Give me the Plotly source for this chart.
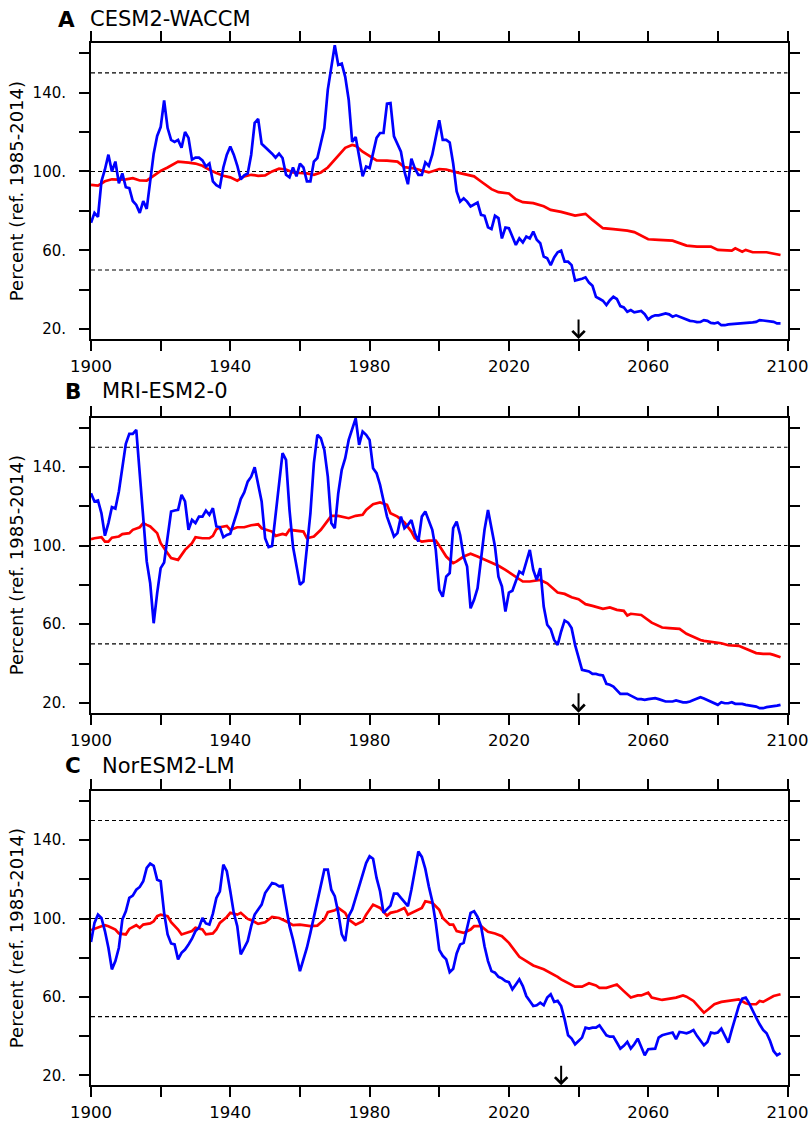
import plotly.graph_objects as go

# ---------------- data ----------------
YEARS = list(range(1900, 2099))

panel_letters = ["A", "B", "C"]
model_names = ["CESM2-WACCM", "MRI-ESM2-0", "NorESM2-LM"]
y_axis_title = "Percent (ref. 1985-2014)"

x_tick_vals = [1900, 1920, 1940, 1960, 1980, 2000, 2020, 2040, 2060, 2080, 2100]
x_tick_text = ["1900", "", "1940", "", "1980", "", "2020", "", "2060", "", "2100"]
y_tick_vals = [20, 40, 60, 80, 100, 120, 140, 160]
y_tick_text = ["20.", "", "60.", "", "100.", "", "140.", ""]
ref_levels = [50, 100, 150]
arrow_years = [2040, 2040, 2035]

cesm_blue = [
    74, 79, 77, 95, 101, 108.5, 100, 105, 94, 99,
    92, 91.5, 85, 83, 79, 85, 81, 96, 109, 118,
    122.5, 136, 122, 116, 115, 116, 112, 120, 117, 106,
    107, 107, 105.6, 102.5, 104, 95, 93, 92, 102, 108.5,
    112.7, 108.5, 103, 96, 98, 99, 108.5, 124.6, 126.6, 114,
    112.4, 111, 109, 107, 109, 106.8, 98.3, 97, 102, 97.5,
    104, 102, 95, 95, 105, 106.8, 114.4, 122, 141.5, 153.4,
    164, 154, 154.7, 148, 136.4, 115, 117.5, 107.6, 97.5, 102.5,
    101.7, 109.3, 117, 119.5, 119.5, 134.4, 134.7, 117.8, 114, 110,
    100, 93.5, 106.5, 101.5, 98.3, 98.3, 104.6, 102.8, 108.5, 118,
    126, 116, 116, 114.7, 104, 89.8, 84.7, 86.4, 84.7, 82.2,
    83, 84.2, 78, 77.5, 71.7, 70.8, 77.5, 76.3, 66, 71.5,
    71.2, 67, 62.7, 66, 64, 67, 66, 69.5, 65.3, 63.6,
    56.8, 56, 52.5, 56.4, 59, 59.8, 54.2, 54.2, 52.5, 44.6,
    45, 45.6, 46.3, 43.6, 42, 36.4, 35.4, 34.4, 32.2, 34.7,
    36.4, 35.3, 31.7, 31, 28.8, 29.7, 28.5, 28.8, 29.2, 27.6,
    24.9, 26.3, 27, 27, 27.5, 28, 27.5, 26.3, 27, 26.3,
    25.4, 24.9, 24.2, 24, 23.6, 23.7, 24.6, 24.2, 23.2, 22.9,
    23.4, 22, 22, 22.4, 22.5, 22.9, 22.9, 22.9, 23.2, 23.2,
    23.4, 23.7, 24.6, 24.4, 24.2, 24, 23.7, 22.9, 22.9,
]

cesm_red_years = [
    1900, 1902, 1904, 1906, 1908, 1910, 1912, 1914, 1916, 1918, 1920, 1922, 1924, 1925,
    1928, 1930, 1932, 1934, 1936, 1938, 1940, 1942, 1944, 1946, 1948, 1950, 1952, 1954,
    1956, 1958, 1960, 1962, 1964, 1966, 1968, 1969, 1971, 1973, 1975, 1976, 1978, 1980,
    1982, 1985, 1988, 1990, 1993, 1995, 1997, 2000, 2002, 2005, 2008, 2010, 2012, 2015,
    2017, 2020, 2022, 2024, 2027, 2030, 2032, 2035, 2039, 2042, 2044, 2047, 2050, 2054,
    2056, 2058, 2060, 2063, 2067, 2071, 2074, 2078, 2080, 2084, 2085, 2087, 2088, 2090,
    2094, 2098,
]
cesm_red = [
    93.2, 92.8, 95, 96, 95.8, 96, 96.6, 95.4, 95.3, 98, 100.3, 102, 104, 105,
    104.5, 104, 102.9, 100.8, 99.2, 97.8, 97, 95.3, 97.5, 98.3, 97.8, 98, 100, 101.4,
    101, 99.5, 99.2, 99, 98.3, 99.5, 102, 104, 108.5, 112, 113.4, 113, 110, 107.6,
    105.6, 105.5, 105, 102.2, 101.5, 100.5, 99.5, 101.2, 101, 99.5, 98.3, 97.5, 94.9, 91,
    89.5, 88.8, 85.9, 84.4, 83.9, 82.3, 80.5, 79.5, 77.6, 78.5, 75.4, 71.2, 70.7, 70,
    69.2, 67.3, 65.6, 65.3, 64.9, 62.4, 61.9, 61.9, 60.2, 59.8, 61, 59.3, 60.2, 59,
    59, 57.6,
]

mri_blue = [
    126.6, 122.4, 122.9, 116.4, 105, 111.4, 119.5, 118.8, 127.5, 140.2,
    151.7, 156.8, 156.8, 158.8, 135, 114.7, 91.9, 80.8, 60.5, 75.8,
    88.5, 91.4, 104.6, 117.3, 117.8, 118.1, 125.8, 122.4, 108, 113,
    111.4, 114.7, 114.7, 117.8, 115.6, 119, 109.7, 109.3, 104.2, 105.4,
    106, 111.4, 117.3, 123.6, 127, 132.5, 135, 139.8, 131.4, 122.4,
    103.7, 99.2, 99.8, 114.7, 130, 147, 143.6, 118.1, 99.5, 89.3,
    80, 81.7, 99.5, 116.4, 141.9, 156.3, 154.6, 148.6, 135, 111.4,
    108.8, 126.6, 138.5, 144.4, 153.7, 159.7, 164.7, 151.2, 158, 156.3,
    153.7, 139.3, 136.8, 130.8, 122.4, 114.7, 109.7, 104.6, 106.3, 114.7,
    108.8, 110.5, 113, 106.3, 102, 114.7, 117.3, 113, 108, 97.8,
    77.5, 74, 84.2, 86, 108.8, 112.2, 105.4, 94.4, 89.3, 68.1,
    72.4, 78.3, 94.4, 108, 118.1, 108.8, 99.5, 84.2, 79.2, 66.4,
    76.1, 77, 81.7, 86.8, 85.6, 91.9, 97.8, 87.6, 82.5, 88.5,
    69, 59.7, 57.5, 52, 49.5, 56.3, 61.9, 60.8, 58, 49.5,
    42.7, 36.8, 36.4, 36, 34.7, 34.7, 34.2, 33.9, 29.7, 29.2,
    28.3, 26.6, 24.6, 24.6, 24.6, 23.7, 22.9, 21.9, 21.9, 21.5,
    21.9, 22.2, 22.4, 21.9, 21.2, 20.7, 20.7, 20.7, 21.2, 20.7,
    20.3, 20.3, 20.7, 21.5, 22.2, 22.9, 22.2, 21.5, 20.7, 19.8,
    19, 20.3, 19.8, 19.8, 20.3, 19.5, 19.5, 19.5, 19, 18.8,
    18.5, 18.1, 17.3, 17.3, 17.8, 18, 18.5, 18.6, 19,
]

mri_red_years = [
    1900, 1901, 1903, 1904, 1905, 1906, 1908, 1909, 1911, 1912, 1914, 1915, 1916, 1917,
    1919, 1920, 1922, 1923, 1925, 1926, 1927, 1929, 1930, 1932, 1934, 1935, 1936, 1937,
    1939, 1940, 1942, 1944, 1946, 1948, 1949, 1952, 1953, 1955, 1956, 1957, 1959, 1961,
    1962, 1964, 1966, 1968, 1969, 1971, 1974, 1976, 1978, 1979, 1981, 1983, 1985, 1986,
    1988, 1990, 1992, 1993, 1995, 1997, 1999, 2000, 2002, 2004, 2005, 2007, 2009, 2011,
    2014, 2017, 2019, 2022, 2024, 2026, 2029, 2031, 2034, 2036, 2038, 2040, 2042, 2044,
    2047, 2049, 2051, 2053, 2054, 2055, 2058, 2061, 2064, 2066, 2069, 2071, 2073, 2075,
    2076, 2079, 2081, 2083, 2086, 2087, 2089, 2091, 2093, 2095, 2096, 2098,
]
mri_red = [
    103.2, 103.7, 104.2, 102, 102, 104, 104.6, 105.8, 106.3, 108, 109.3, 111.4, 110.5, 109.7,
    106.3, 101.2, 96.1, 93.6, 92.7, 95.3, 97.8, 101.2, 104.2, 103.7, 103.7, 104.9, 108.3, 109.3,
    110, 108, 109.3, 109.3, 110.3, 110.8, 108.8, 107.1, 104.9, 105.9, 105.4, 108, 107.6, 107.1,
    103.7, 104.6, 108, 113, 115.1, 115.1, 113.9, 115.1, 115.6, 118.1, 121, 121.9, 120.7, 116.4,
    114.7, 111.7, 107.1, 103.7, 102, 102.5, 102.5, 100, 94.4, 91, 91.9, 94.4, 95.8, 94.4,
    91.9, 89.7, 87.6, 83.9, 81.7, 81.7, 82.5, 80.8, 76.1, 75.4, 73.7, 72.7, 70.2, 69.3,
    67.8, 68.5, 67.3, 66.8, 64.4, 65.3, 64.7, 60.8, 58.3, 58, 57.6, 55.1, 53.4, 52,
    51.5, 50.7, 50.3, 49.3, 49, 48.3, 46.6, 45.3, 44.9, 44.9, 44.4, 43.2,
]

nor_blue = [
    88, 97.8, 102, 100.3, 93.6, 85.1, 74.1, 78.3, 85.1, 99.5,
    103.7, 110.5, 111.7, 114.7, 116.1, 119, 125.8, 128, 126.9, 119.8,
    119, 102.9, 91.9, 87.3, 86.8, 79.2, 82.5, 84.2, 86.8, 89.7,
    93.6, 95.3, 100.3, 97.5, 96.9, 102.5, 110.5, 113.9, 127.5, 124.1,
    113.9, 102.9, 96.1, 81.7, 85.1, 88.5, 96.1, 102, 104.6, 107.1,
    113, 115.6, 118.1, 117.6, 116.4, 116.8, 105.4, 96.1, 89.3, 81.2,
    73.2, 79.2, 85.1, 92.7, 101.2, 108, 118.1, 124.9, 124.9, 114.7,
    111.4, 102.9, 91.9, 88.5, 101.2, 104.6, 110.5, 116.4, 123.2, 128.3,
    131.7, 130.5, 120.7, 113.9, 102.9, 104.6, 106.6, 112.7, 112.7, 110.5,
    108.3, 106.3, 114.7, 124.9, 134.2, 131.4, 125.3, 116.4, 108.8, 97.8,
    84, 81, 79.2, 72.7, 74.4, 82.2, 86.8, 87.6, 96.1, 102.9,
    103.7, 100.8, 96.1, 85.9, 78.3, 73.2, 72.4, 70.3, 69.5, 68.1,
    67.6, 63.9, 66.4, 69, 65.6, 60.5, 58, 55.4, 55.8, 57.1,
    55.8, 59.7, 61.4, 57.5, 58, 55.4, 48.6, 40.5, 38.8, 35.9,
    37.6, 39.3, 44.4, 43.9, 44.4, 44.4, 45.6, 42.7, 40.5, 39.8,
    39.8, 36.8, 33.7, 35.1, 37.1, 33.7, 35.9, 38.8, 34.2, 30.3,
    33.4, 33.7, 33.7, 39.3, 40.5, 41, 41.5, 41.9, 38.5, 42.2,
    41.9, 41.5, 42.2, 43.2, 40.2, 37.6, 35.4, 37.1, 41.9, 41.5,
    41.9, 43.9, 40.2, 36.8, 43.2, 49.5, 55.4, 59.2, 59.7, 56.8,
    52.9, 49.5, 46.1, 43.2, 41.5, 37.6, 32.5, 30.3, 31.4,
]

nor_red_years = [
    1900, 1901, 1903, 1904, 1905, 1907, 1908, 1910, 1911, 1913, 1914, 1915, 1917, 1918,
    1919, 1920, 1922, 1923, 1925, 1926, 1927, 1929, 1930, 1932, 1933, 1935, 1936, 1937,
    1939, 1940, 1942, 1943, 1945, 1946, 1948, 1950, 1952, 1954, 1956, 1958, 1960, 1961,
    1963, 1965, 1967, 1968, 1970, 1971, 1973, 1974, 1976, 1978, 1979, 1981, 1983, 1985,
    1986, 1988, 1990, 1991, 1993, 1995, 1996, 1998, 2000, 2001, 2003, 2004, 2005, 2007,
    2009, 2010, 2012, 2014, 2016, 2018, 2020, 2022, 2023, 2025, 2027, 2030, 2032, 2034,
    2035, 2037, 2039, 2041, 2043, 2045, 2046, 2048, 2051, 2053, 2055, 2057, 2058, 2060,
    2061, 2064, 2066, 2068, 2070, 2071, 2073, 2075, 2076, 2077, 2079, 2081, 2084, 2086,
    2088, 2089, 2091, 2092, 2093, 2095, 2096, 2098,
]
nor_red = [
    94.1, 94.9, 96.1, 96.6, 96.1, 94.4, 92.4, 91.9, 94.7, 96.6, 95.3, 96.9, 97.5, 98.6,
    101.2, 102, 101.2, 98.1, 94.4, 91.9, 92.4, 93.6, 95.3, 94.4, 91.9, 92.4, 94.4, 97.8,
    100.8, 102.9, 102, 102.9, 99.8, 99.2, 97.3, 98.1, 100.8, 100.3, 98.6, 96.6, 96.9, 96.6,
    96.1, 96.4, 99.5, 103.2, 104.2, 105.4, 102.9, 99.5, 96.9, 98.6, 102, 107.1, 105.4, 101.5,
    102.9, 103.7, 105.4, 102, 103.7, 105.4, 108.8, 108, 104.5, 100.3, 96.9, 96.9, 93.6, 92.7,
    94.4, 96.1, 96.1, 93.2, 92.4, 91, 87.6, 82.5, 80.5, 78.3, 76.1, 74.1, 72.4, 70.3,
    69, 67, 65.3, 65.3, 67, 65.9, 64.7, 64.7, 66.4, 63, 59.7, 60.8, 60.8, 62.2,
    59.7, 58.5, 59.2, 59.7, 60.8, 60.2, 58, 53.7, 52, 53.4, 56.3, 57.5, 58.5, 58.8,
    56.8, 56.3, 56.3, 58, 57.5, 59.7, 60.5, 61.4,
]

blue_series = [cesm_blue, mri_blue, nor_blue]
red_years = [cesm_red_years, mri_red_years, nor_red_years]
red_series = [cesm_red, mri_red, nor_red]

for s in blue_series:
    assert len(s) == len(YEARS), len(s)
for yy, s in zip(red_years, red_series):
    assert len(yy) == len(s), (len(yy), len(s))

# ---------------- layout geometry (pixels) ----------------
W, H = 811, 1122
PLOT_LEFT, PLOT_RIGHT = 91, 787.5
PANEL_TOPS = [43.3, 417.7, 791.0]
PANEL_BOTTOMS = [339.0, 712.7, 1085.3]
TITLE_CAP_CENTER = [19.0, 391.0, 765.5]
LETTER_X = [56, 63, 63]
NAME_X = [88, 100, 100]

FONT = "DejaVu Sans"
BLUE = "#0000ff"
RED = "#ff0000"

fig = go.Figure()
annotations = []
shapes = []

for i in range(3):
    sfx = "" if i == 0 else str(i + 1)
    xa, ya = "x" + sfx, "y" + sfx
    fig.add_trace(go.Scatter(x=red_years[i], y=red_series[i], mode="lines",
                             line=dict(color=RED, width=2.7), xaxis=xa, yaxis=ya,
                             showlegend=False, hoverinfo="skip"))
    fig.add_trace(go.Scatter(x=YEARS, y=blue_series[i], mode="lines",
                             line=dict(color=BLUE, width=2.7), xaxis=xa, yaxis=ya,
                             showlegend=False, hoverinfo="skip"))

    dom_y = [1 - PANEL_BOTTOMS[i] / H, 1 - PANEL_TOPS[i] / H]
    axis_common = dict(showline=True, linecolor="black", linewidth=2, mirror="ticks",
                       ticks="outside", ticklen=10, tickwidth=2, tickcolor="black",
                       showgrid=False, zeroline=False, automargin=False)
    fig.layout["xaxis" + sfx] = dict(
        domain=[PLOT_LEFT / W, PLOT_RIGHT / W], range=[1900, 2100], anchor=ya,
        tickmode="array", tickvals=x_tick_vals, ticktext=x_tick_text,
        tickfont=dict(family=FONT, size=16.5, color="black"), ticklabelstandoff=1,
        **axis_common)
    fig.layout["yaxis" + sfx] = dict(
        domain=dom_y, range=[15, 165], anchor=xa,
        tickmode="array", tickvals=y_tick_vals, ticktext=y_tick_text,
        tickfont=dict(family=FONT, size=15, color="black"), ticklabelstandoff=10,
        **axis_common)

    for lv in ref_levels:
        shapes.append(dict(type="line", xref=xa + " domain", yref=ya, x0=0, x1=1,
                           y0=lv, y1=lv, layer="below",
                           line=dict(color="black", width=1.1, dash="4px,3px")))

    annotations.append(dict(x=arrow_years[i], y=15, xref=xa, yref=ya, text="",
                            showarrow=True, ax=0, ay=-21, arrowhead=4, arrowsize=1.2,
                            arrowwidth=2, arrowcolor="black", standoff=0))

    annotations.append(dict(x=LETTER_X[i] / W, y=1 - TITLE_CAP_CENTER[i] / H,
                            xref="paper", yref="paper", xanchor="left", yanchor="middle",
                            text="<b>" + panel_letters[i] + "</b>", showarrow=False,
                            font=dict(family=FONT, size=21.5, color="black")))
    annotations.append(dict(x=NAME_X[i] / W, y=1 - TITLE_CAP_CENTER[i] / H,
                            xref="paper", yref="paper", xanchor="left", yanchor="middle",
                            text=model_names[i], showarrow=False,
                            font=dict(family=FONT, size=21, color="black")))
    annotations.append(dict(x=16 / W, y=(dom_y[0] + dom_y[1]) / 2,
                            xref="paper", yref="paper", xanchor="center", yanchor="middle",
                            text=y_axis_title, textangle=-90, showarrow=False,
                            font=dict(family=FONT, size=18, color="black")))

fig.update_layout(
    template="none",
    width=W, height=H,
    margin=dict(l=0, r=0, t=0, b=0, pad=0),
    paper_bgcolor="white", plot_bgcolor="white",
    showlegend=False,
    annotations=annotations,
    shapes=shapes,
)

fig.write_html("out.html")
